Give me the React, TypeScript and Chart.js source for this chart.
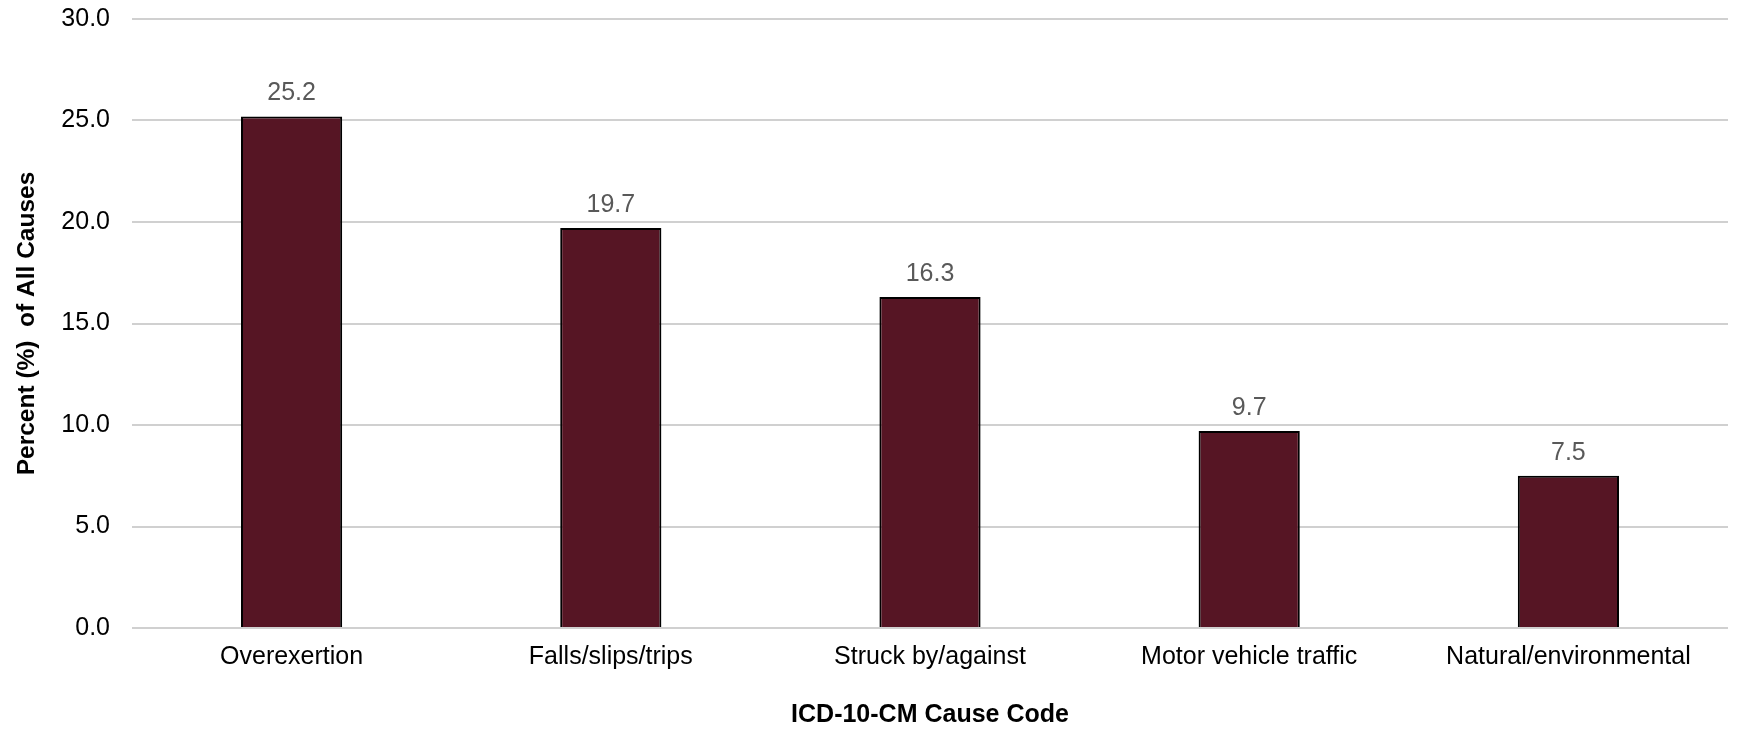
import React, { useEffect, useRef } from "react";
import { Chart, registerables } from "chart.js";

Chart.register(...registerables);

const categories = [
  "Overexertion",
  "Falls/slips/trips",
  "Struck by/against",
  "Motor vehicle traffic",
  "Natural/environmental",
];
const percentValues = [25.2, 19.7, 16.3, 9.7, 7.5];
const yMin = 0;
const yMax = 30;
const yStep = 5;
const xTitle = "ICD-10-CM Cause Code";
const yTitle = "Percent (%)  of All Causes";

const FONT = "'Liberation Sans', Arial, sans-serif";

const dataLabelPlugin = {
  id: "dataLabels",
  afterDatasetsDraw(chart: any) {
    const { ctx } = chart;
    const meta = chart.getDatasetMeta(0);
    ctx.save();
    ctx.font = `25px ${FONT}`;
    ctx.fillStyle = "#595959";
    ctx.textAlign = "center";
    ctx.textBaseline = "alphabetic";
    meta.data.forEach((el: any, i: number) => {
      const v = chart.data.datasets[0].data[i] as number;
      ctx.fillText(v.toFixed(1), el.x, el.y - 16);
    });
    ctx.restore();
  },
};

export default function App() {
  const canvasRef = useRef<HTMLCanvasElement | null>(null);

  useEffect(() => {
    if (!canvasRef.current) return;
    const chart = new Chart(canvasRef.current, {
      type: "bar",
      data: {
        labels: categories,
        datasets: [
          {
            data: percentValues,
            backgroundColor: "#561524",
            borderColor: "#000000",
            borderWidth: 2,
            borderSkipped: "bottom",
            categoryPercentage: 0.317,
            barPercentage: 1,
          },
        ],
      },
      options: {
        responsive: false,
        maintainAspectRatio: false,
        animation: false,
        layout: { autoPadding: false, padding: { left: 0, right: 9, top: 19, bottom: 0 } },
        plugins: {
          legend: { display: false },
          title: { display: false },
          tooltip: { enabled: false },
        },
        scales: {
          x: {
            grid: { display: false, drawTicks: false },
            border: { display: false },
            ticks: {
              color: "#000000",
              font: { family: FONT, size: 25 },
              padding: 14,
              maxRotation: 0,
              autoSkip: false,
            },
            title: {
              display: true,
              text: xTitle,
              color: "#000000",
              font: { family: FONT, size: 25, weight: "bold", lineHeight: 1 },
              padding: { top: 0, bottom: 1.5 },
            },
            afterFit(scale: any) {
              scale.height = 101;
              scale.paddingLeft = 0;
              scale.paddingRight = 0;
            },
          },
          y: {
            min: yMin,
            max: yMax,
            grid: {
              color: "#d0d0d0",
              lineWidth: 2,
              drawTicks: false,
            },
            border: { display: false },
            ticks: {
              stepSize: yStep,
              color: "#000000",
              font: { family: FONT, size: 25 },
              padding: 22,
              callback: (v: any) => Number(v).toFixed(1),
            },
            title: {
              display: true,
              text: yTitle,
              color: "#000000",
              font: { family: FONT, size: 24.5, weight: "bold", lineHeight: 1 },
              padding: { top: 15, bottom: 0 },
            },
            afterFit(scale: any) {
              scale.width = 132;
              scale.paddingTop = 0;
              scale.paddingBottom = 0;
            },
          },
        },
      },
      plugins: [dataLabelPlugin],
    });
    return () => chart.destroy();
  }, []);

  return (
    <div style={{ position: "absolute", left: 0, top: 0, width: 1737, height: 729, background: "#ffffff" }}>
      <canvas ref={canvasRef} width={1737} height={729} style={{ width: 1737, height: 729 }} />
    </div>
  );
}
